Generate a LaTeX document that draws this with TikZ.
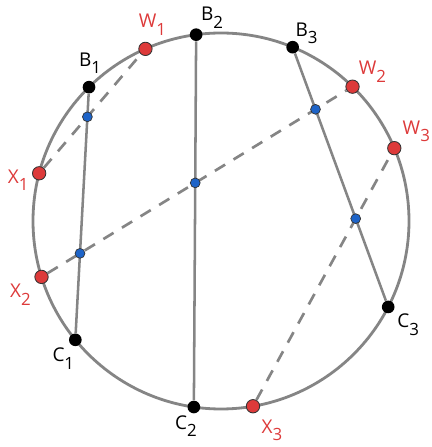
\documentclass[tikz,border=0pt]{standalone}
\usepackage{fontspec}
\setmainfont{Open Sans}
\usetikzlibrary{calc,intersections}
\definecolor{rimgray}{HTML}{858585}
\definecolor{wred}{HTML}{DD3A3A}
\definecolor{mblue}{HTML}{1E64C8}
\newcommand{\sublab}[2]{#1\raisebox{-0.75ex}{\fontsize{12}{14}\selectfont #2}}
\tikzset{
  rim/.style={line width=2pt, color=rimgray},
  chord/.style={line width=1.8pt, color=rimgray},
  dchord/.style={chord, line width=1.9pt, dash pattern=on 8.5pt off 7pt},
  bdot/.style={circle, fill=black, inner sep=0pt, minimum size=9pt},
  wdot/.style={circle, fill=wred, draw=black!80, line width=0.6pt, inner sep=0pt, minimum size=9.5pt},
  mdot/.style={circle, fill=mblue, draw=black!80, line width=0.5pt, inner sep=0pt, minimum size=7pt},
  blab/.style={font=\fontsize{13.5}{16}\selectfont, text=black, inner sep=0pt},
  wlab/.style={blab, text=wred},
}
\begin{document}
\begin{tikzpicture}[x=0.025cm, y=0.025cm]
		\useasboundingbox (0,0) rectangle (432,447);
		\coordinate (O) at (221,226);
		
		%%%%% RIM %%%%%
		\draw[rim] (O) circle (188);
		
		\foreach \n/\a in {b1/134.6, b2/97.6, b3/67.6, c1/219.2, c2/261.7, c3/332.8}
			\node[bdot] (\n) at ($(O)+(\a:188)$) {};
		\foreach \n/\a in {w1/113.7, w2/45.6, w3/22.8, x1/165.3, x2/197.3, x3/279.8}
			\node[wdot] (\n) at ($(O)+(\a:188)$) {};
		
		%%%%% CHORDS %%%%%
		\draw[chord, name path=bc1] (b1) -- (c1);
		\draw[chord, name path=bc2] (b2) -- (c2);
		\draw[chord, name path=bc3] (b3) -- (c3);
		\draw[dchord, name path=xw1] (x1) -- (w1);
		\draw[dchord, name path=xw2] (x2) -- (w2);
		\draw[dchord, name path=xw3] (x3) -- (w3);
		
		\path[name intersections={of=bc1 and xw1, by=m11}];
		\path[name intersections={of=bc1 and xw2, by=m12}];
		\path[name intersections={of=bc2 and xw2, by=m22}];
		\path[name intersections={of=bc3 and xw2, by=m32}];
		\path[name intersections={of=bc3 and xw3, by=m33}];
		\foreach \m in {m11, m12, m22, m32, m33}
			\node[mdot] (d\m) at (\m) {};
		
		%%%%% LABELS %%%%%
		\node[blab] (lb1) at ($(b1)+(1,24)$) {\sublab{B}{1}};
		\node[blab] (lb2) at ($(b2)+(16,17)$) {\sublab{B}{2}};
		\node[blab] (lb3) at ($(b3)+(14,14)$) {\sublab{B}{3}};
		\node[blab] (lc1) at ($(c1)+(-12,-19)$) {\sublab{C}{1}};
		\node[blab] (lc2) at ($(c2)+(-8,-19)$) {\sublab{C}{2}};
		\node[blab] (lc3) at ($(c3)+(20,-18)$) {\sublab{C}{3}};
		\node[wlab] (lw1) at ($(w1)+(7,24)$) {\sublab{W}{1}};
		\node[wlab] (lw2) at ($(w2)+(20,15)$) {\sublab{W}{2}};
		\node[wlab] (lw3) at ($(w3)+(22,17)$) {\sublab{W}{3}};
		\node[wlab] (lx1) at ($(x1)+(-21,-7)$) {\sublab{X}{1}};
		\node[wlab] (lx2) at ($(x2)+(-21,-18)$) {\sublab{X}{2}};
		\node[wlab] (lx3) at ($(x3)+(19,-24)$) {\sublab{X}{3}};
	\end{tikzpicture}
\end{document}
